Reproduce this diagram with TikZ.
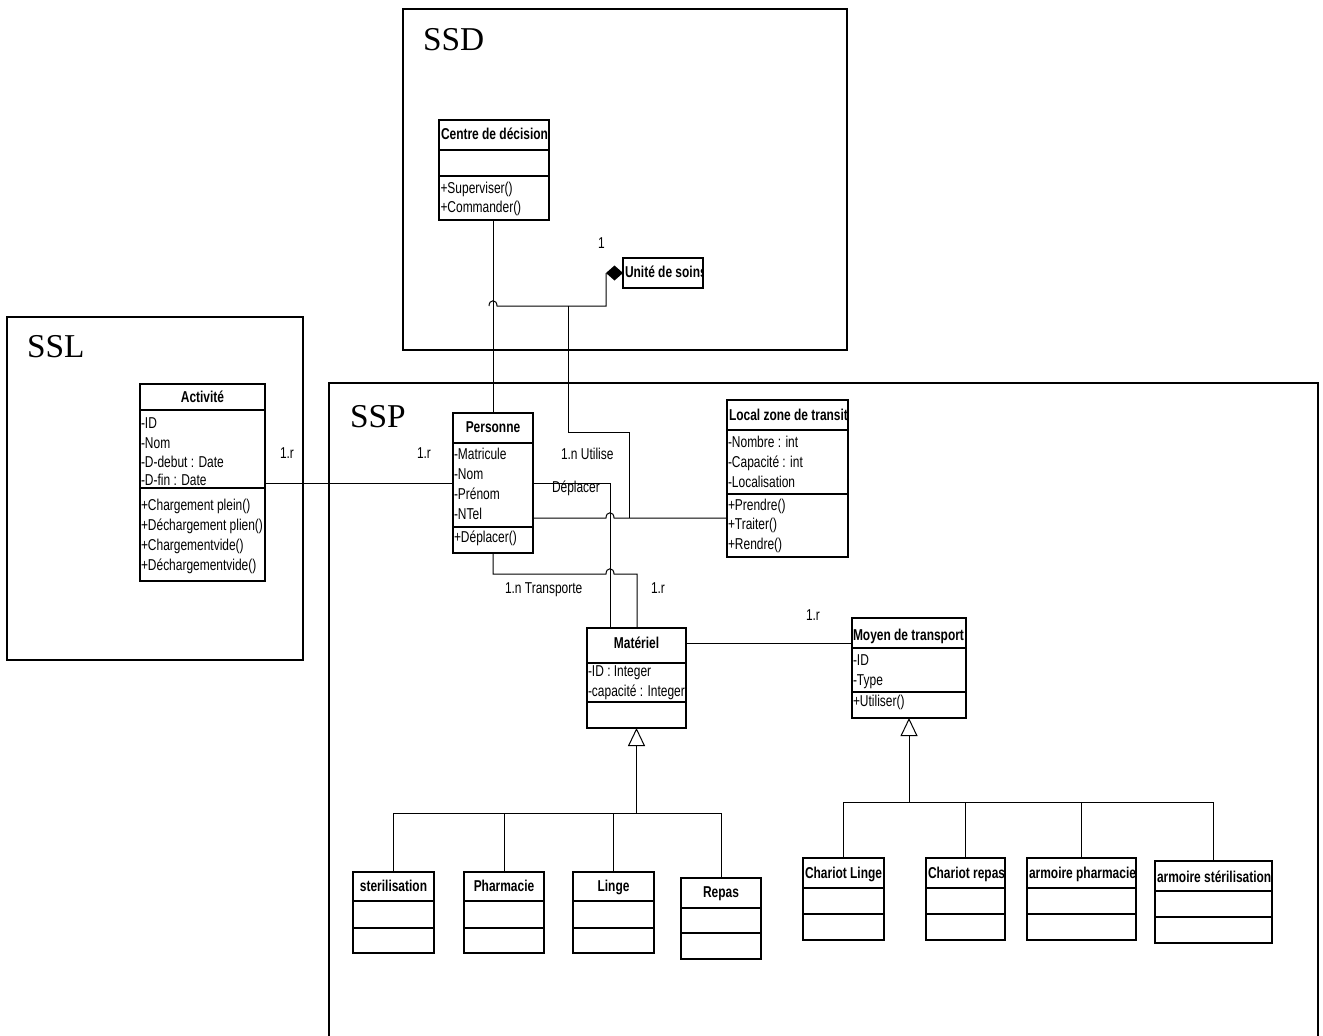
\documentclass[tikz,border=0pt]{standalone}
\usepackage{fontspec}
\setmainfont{Liberation Sans}[FakeStretch=0.76]
\newfontfamily\frameserif{Liberation Serif}
\usetikzlibrary{fit,arrows.meta}
\newcounter{tn}
\tikzset{
  every node/.style={font=\fontsize{11.8pt}{13pt}\selectfont, inner sep=0pt, outer sep=0pt},
  boxline/.style={line width=0.8pt},
  frameline/.style={line width=1.5pt},
  conn/.style={line width=0.75pt},
  txt/.style={anchor=base west},
  ttl/.style={anchor=base, font=\fontsize{11.8pt}{13pt}\selectfont\bfseries},
  ttll/.style={anchor=base west, font=\fontsize{11.8pt}{13pt}\selectfont\bfseries},
  lbl/.style={anchor=base west},
  frametitle/.style={anchor=base west, font=\frameserif\fontsize{25pt}{28pt}\selectfont},
  gen/.style={conn, -{Triangle[open, length=13.5pt, width=12.75pt]}},
}
% class box: name, x1, y1, x2, y2, sep1, sep2
\newcommand\ubox[7]{%
  \node[draw, boxline, fit={(#2,#3) (#4,#5)}] (#1) {};
  \draw[boxline] (#2,#6) -- (#4,#6) (#2,#7) -- (#4,#7);
}
\newcommand\ut[3]{\stepcounter{tn}\node[txt] (t\arabic{tn}) at (#1,#2) {#3};}
\newcommand\uc[3]{\stepcounter{tn}\node[ttl] (t\arabic{tn}) at (#1,#2) {#3};}
\newcommand\ul[3]{\stepcounter{tn}\node[ttll] (t\arabic{tn}) at (#1,#2) {#3};}

\begin{document}
\begin{tikzpicture}[x=0.75pt, y=-0.75pt]
\fill[white] (0,0) rectangle (1323,1035);
\useasboundingbox (0,0) rectangle (1323,1035);

% ---------- frames ----------
\draw[frameline] (403,9) rectangle (847,350);
\draw[frameline] (7,317) rectangle (303,660);
\draw[frameline] (329,1036) -- (329,383) -- (1318,383) -- (1318,1036);
\node[frametitle] (fssd) at (423,50) {SSD};
\node[frametitle] (fssl) at (27,357) {SSL};
\node[frametitle] (fssp) at (350,427) {SSP};

% ---------- Centre de decision ----------
\ubox{ctr}{439}{120}{549}{220}{150}{176}
\begin{scope}
\clip (439,120) rectangle (549,220);
\ul{441}{139}{Centre de décision}
\ut{440.5}{193}{+Superviser()}
\ut{440.5}{212}{+Commander()}
\end{scope}

% ---------- Unite de soins ----------
\node[draw, boxline, fit={(623,258) (703,288)}] (uds) {};
\begin{scope}
\clip (623,258) rectangle (703,288);
\ul{625}{277}{Unité de soins}
\end{scope}

% ---------- Activite ----------
\ubox{act}{140}{384}{265}{581}{410}{488}
\begin{scope}
\clip (140,384) rectangle (265,581);
\uc{202.5}{402}{Activité}
\ut{141}{428}{-ID}
\ut{141}{448}{-Nom}
\ut{141}{467}{-D-debut : Date}
\ut{141}{485}{-D-fin : Date}
\ut{141}{510}{+Chargement plein()}
\ut{141}{530}{+Déchargement plien()}
\ut{141}{550}{+Chargementvide()}
\ut{141}{570}{+Déchargementvide()}
\end{scope}

% ---------- Personne ----------
\ubox{pers}{453}{413}{533}{553}{443}{527}
\begin{scope}
\clip (453,413) rectangle (533,553);
\uc{493}{432}{Personne}
\ut{454}{459}{-Matricule}
\ut{454}{479}{-Nom}
\ut{454}{499}{-Prénom}
\ut{454}{519}{-NTel}
\ut{454}{542}{+Déplacer()}
\end{scope}

% ---------- Local zone de transit ----------
\ubox{loc}{727}{400}{848}{557}{430}{494}
\begin{scope}
\clip (727,400) rectangle (848,557);
\ul{729}{420}{Local zone de transit}
\ut{728}{447}{-Nombre : int}
\ut{728}{467}{-Capacité : int}
\ut{728}{487}{-Localisation}
\ut{728}{510}{+Prendre()}
\ut{728}{529}{+Traiter()}
\ut{728}{549}{+Rendre()}
\end{scope}

% ---------- Materiel ----------
\ubox{mat}{587}{628}{686}{728}{663}{702}
\begin{scope}
\clip (587,628) rectangle (686,728);
\uc{636.5}{648}{Matériel}
\ut{588}{676}{-ID : Integer}
\ut{588}{696}{-capacité : Integer}
\end{scope}

% ---------- Moyen de transport ----------
\ubox{moy}{852}{618}{966}{718}{648}{692}
\begin{scope}
\clip (852,618) rectangle (966,718);
\ul{853}{640}{Moyen de transport}
\ut{853}{665}{-ID}
\ut{853}{685}{-Type}
\ut{853}{706}{+Utiliser()}
\end{scope}

% ---------- Materiel subclasses ----------
\ubox{ster}{353}{872}{434}{953}{901}{928}
\ubox{phar}{464}{872}{544}{953}{901}{928}
\ubox{linge}{573}{872}{654}{953}{901}{928}
\ubox{repas}{681}{878}{761}{959}{908}{933}
\begin{scope}
\clip (353,872) rectangle (434,953);
\uc{393.5}{891}{sterilisation}
\end{scope}
\uc{504}{891}{Pharmacie}
\uc{613.5}{891}{Linge}
\uc{721}{897}{Repas}

% ---------- Moyen subclasses ----------
\ubox{chl}{803}{858}{884}{940}{888}{914}
\ubox{chr}{926}{858}{1005}{940}{888}{914}
\ubox{arp}{1027}{858}{1136}{940}{888}{914}
\ubox{ars}{1155}{861}{1272}{943}{891}{917}
\begin{scope}
\clip (803,858) rectangle (884,940);
\ul{805}{878}{Chariot Linge}
\end{scope}
\begin{scope}
\clip (926,858) rectangle (1005,940);
\ul{928}{878}{Chariot repas}
\end{scope}
\begin{scope}
\clip (1027,858) rectangle (1136,940);
\ul{1029}{878}{armoire pharmacie}
\end{scope}
\begin{scope}
\clip (1155,861) rectangle (1272,943);
\ul{1157}{882}{armoire stérilisation}
\end{scope}

% ---------- connectors ----------
% Centre de decision -- Personne
\draw[conn] (pers.north |- ctr.south) -- (pers.north);
% composition Unite de soins
\fill (uds.west) -- ++(-8.5,-7.5) -- ++(-8.5,7.5) -- ++(8.5,7.5) -- cycle;
\coordinate (dtip) at ([xshift=-12.75pt]uds.west);
\draw[conn] (dtip) -- (dtip |- 0,306) -- (497,306)
  .. controls (497,299) and (489,299) .. (489,306);
\coordinate (j1) at (568,306);
\draw[conn] (j1) -- (568,432) -- (629,432) -- (629,518);
% Activite -- Personne
\draw[conn] (act.east |- 0,483) -- (pers.west |- 0,483);
% Personne -- Local zone de transit
\draw[conn] (pers.east |- 0,518) -- (606,518)
  .. controls (606,511) and (614,511) .. (614,518) -- (loc.west |- 0,518);
% Personne -- Materiel (Deplacer)
\draw[conn] (pers.east |- 0,483) -- (610,483) -- (mat.north -| 610,0);
% Personne -- Materiel (Transporte)
\draw[conn] (pers.south) -- (pers.south |- 0,574) -- (606,574)
  .. controls (606,567) and (614,567) .. (614,574) -- (637,574) -- (mat.north -| 637,0);
% Materiel -- Moyen de transport
\draw[conn] (mat.east |- 0,643) -- (moy.west |- 0,643);

% generalisation Materiel
\draw[gen] (mat.south |- 0,813) -- (mat.south);
\draw[conn] (ster.north) -- (ster.north |- 0,813) -- (repas.north |- 0,813) -- (repas.north);
\draw[conn] (phar.north) -- (phar.north |- 0,813);
\draw[conn] (linge.north) -- (linge.north |- 0,813);

% generalisation Moyen de transport
\draw[gen] (moy.south |- 0,802) -- (moy.south);
\draw[conn] (chl.north) -- (chl.north |- 0,802) -- (ars.north |- 0,802) -- (ars.north);
\draw[conn] (chr.north) -- (chr.north |- 0,802);
\draw[conn] (arp.north) -- (arp.north |- 0,802);

% ---------- labels ----------
\node[lbl] (m1) at (280,458) {1.r};
\node[lbl] (m2) at (417,458) {1.r};
\node[lbl] (m3) at (561,459) {1.n Utilise};
\node[lbl] (m4) at (552,492) {Déplacer};
\node[lbl] (m5) at (505,593) {1.n Transporte};
\node[lbl] (m6) at (651,593) {1.r};
\node[lbl] (m7) at (806,620) {1.r};
\node[lbl] (m8) at (598,248) {1};
\end{tikzpicture}
\end{document}
